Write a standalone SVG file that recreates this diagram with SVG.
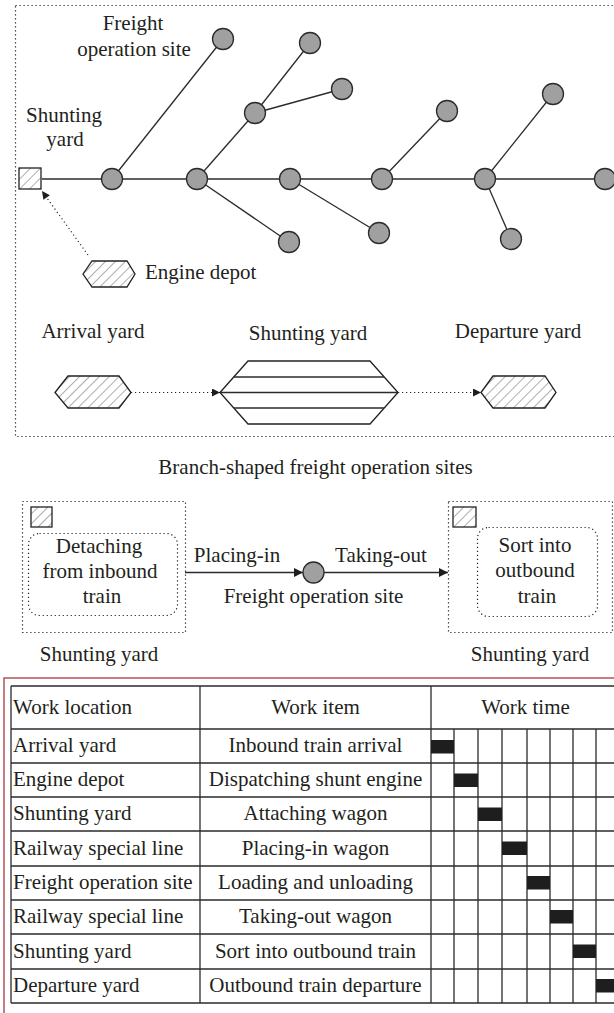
<svg xmlns="http://www.w3.org/2000/svg" width="614" height="1013" viewBox="0 0 614 1013">
<style>
.t{font-family:"Liberation Serif","Times New Roman",serif;font-size:21px;fill:#231f20}
.c{text-anchor:middle}
.edge{stroke:#2b2b2b;stroke-width:1.3;fill:none}
.dot{stroke:#222;stroke-width:1.2;stroke-dasharray:1.2 2.8;fill:none}
.node{fill:#a0a0a0;stroke:#2b2b2b;stroke-width:1.3}
.hatch{fill:url(#hatch);stroke:#222;stroke-width:1.3}
.plain{fill:#fff;stroke:#222;stroke-width:1.3}
.grid{stroke:#2b2b2b;stroke-width:1.3;fill:none}
.bar{fill:#1e1e1e}
</style>
<defs>
<pattern id="hatch" patternUnits="userSpaceOnUse" width="7" height="7" patternTransform="rotate(45)">
<rect width="7" height="7" fill="#fff"/>
<line x1="0" y1="0" x2="0" y2="7" stroke="#333" stroke-width="0.8"/>
</pattern>
<marker id="ahS" viewBox="0 0 10 10" refX="10" refY="5" markerWidth="14" markerHeight="9" markerUnits="userSpaceOnUse" orient="auto">
<path d="M0,0 L10,5 L0,10 z" fill="#1e1e1e"/>
</marker>
<marker id="ahD" viewBox="0 0 10 10" refX="10" refY="5" markerWidth="11" markerHeight="8" markerUnits="userSpaceOnUse" orient="auto">
<path d="M0,0 L10,5 L0,10 z" fill="#1e1e1e"/>
</marker>
</defs>
<rect width="614" height="1013" fill="#fff"/>

<rect id="frame-top" class="dot" x="15.5" y="5.5" width="620" height="431"/>

<g id="connectors">
<line class="edge" x1="42" y1="179" x2="605" y2="179"/>
<line class="edge" x1="112" y1="179" x2="223" y2="39"/>
<line class="edge" x1="197" y1="179" x2="255" y2="113"/>
<line class="edge" x1="255" y1="113" x2="310" y2="43"/>
<line class="edge" x1="255" y1="113" x2="342" y2="89"/>
<line class="edge" x1="197" y1="179" x2="289" y2="242"/>
<line class="edge" x1="290" y1="179" x2="379" y2="233"/>
<line class="edge" x1="382" y1="179" x2="447" y2="111"/>
<line class="edge" x1="485" y1="179" x2="553" y2="94"/>
<line class="edge" x1="485" y1="179" x2="511" y2="239"/>
<line class="dot" x1="88" y1="255" x2="42" y2="191" marker-end="url(#ahD)"/>
<line class="dot" x1="131" y1="392.5" x2="220" y2="392.5" marker-end="url(#ahD)"/>
<line class="dot" x1="398" y1="392.5" x2="481" y2="392.5" marker-end="url(#ahD)"/>
<line class="edge" x1="185" y1="572.5" x2="303" y2="572.5" marker-end="url(#ahS)"/>
<line class="edge" x1="324" y1="572.5" x2="448" y2="572.5" marker-end="url(#ahS)"/>
</g>

<g id="shunting-yard-top">
<rect class="hatch" x="19" y="168" width="22" height="21"/>
<text class="t c" x="64" y="122">Shunting</text>
<text class="t c" x="65" y="146">yard</text>
</g>
<g id="label-freight-site">
<text class="t c" x="133" y="30">Freight</text>
<text class="t c" x="134" y="56">operation site</text>
</g>
<g id="sites">
<circle class="node" cx="112" cy="179" r="10.5"/>
<circle class="node" cx="197" cy="179" r="10.5"/>
<circle class="node" cx="290" cy="179" r="10.5"/>
<circle class="node" cx="382" cy="179" r="10.5"/>
<circle class="node" cx="485" cy="179" r="10.5"/>
<circle class="node" cx="605" cy="179" r="10.5"/>
<circle class="node" cx="223" cy="39" r="10.5"/>
<circle class="node" cx="310" cy="43" r="10.5"/>
<circle class="node" cx="255" cy="113" r="10.5"/>
<circle class="node" cx="342" cy="89" r="10.5"/>
<circle class="node" cx="447" cy="111" r="10.5"/>
<circle class="node" cx="553" cy="94" r="10.5"/>
<circle class="node" cx="289" cy="242" r="10.5"/>
<circle class="node" cx="379" cy="233" r="10.5"/>
<circle class="node" cx="511" cy="239" r="10.5"/>
</g>
<g id="engine-depot">
<polygon class="hatch" points="83,274 92,261 127,261 135,274 127,287 92,287"/>
<text class="t" x="145" y="279">Engine depot</text>
</g>

<g id="arrival-yard">
<text class="t c" x="93" y="338">Arrival yard</text>
<polygon class="hatch" points="55,392.5 68,376 119,376 131,392.5 119,408 68,408"/>
</g>
<g id="shunting-yard-mid">
<text class="t c" x="308" y="340">Shunting yard</text>
<polygon class="plain" points="220,392.5 248,361 370,361 398,392.5 370,424 248,424"/>
<line class="edge" x1="234" y1="377" x2="384" y2="377"/>
<line class="edge" x1="220" y1="392.5" x2="398" y2="392.5"/>
<line class="edge" x1="234" y1="408" x2="384" y2="408"/>
</g>
<g id="departure-yard">
<text class="t c" x="518" y="338">Departure yard</text>
<polygon class="hatch" points="481,392.5 493,376 545,376 556,392.5 545,408 493,408"/>
</g>
<text id="caption" class="t c" x="315.5" y="474">Branch-shaped freight operation sites</text>

<g id="box-detach">
<rect class="dot" x="22.5" y="501.5" width="163" height="131"/>
<rect class="hatch" x="31" y="507" width="21" height="20"/>
<rect class="dot" x="28.5" y="533.5" width="149" height="82" rx="11"/>
<text class="t c" x="99" y="553">Detaching</text>
<text class="t c" x="100" y="578">from inbound</text>
<text class="t c" x="102" y="603">train</text>
<text class="t c" x="99" y="661">Shunting yard</text>
</g>
<g id="freight-site-node">
<circle class="node" cx="313.5" cy="572.5" r="10.5"/>
<text class="t c" x="237" y="562">Placing-in</text>
<text class="t c" x="381" y="562">Taking-out</text>
<text class="t c" x="313.5" y="603">Freight operation site</text>
</g>
<g id="box-sort">
<rect class="dot" x="448.5" y="501.5" width="164" height="131"/>
<rect class="hatch" x="453" y="507" width="23" height="20"/>
<rect class="dot" x="477.5" y="527.5" width="120" height="89" rx="11"/>
<text class="t c" x="535" y="552">Sort into</text>
<text class="t c" x="535" y="577">outbound</text>
<text class="t c" x="537" y="603">train</text>
<text class="t c" x="530" y="661">Shunting yard</text>
</g>

<g id="table">
<rect x="4" y="678" width="700" height="400" fill="none" stroke="#b5515b" stroke-width="1.5"/>
<g class="grid">
<path d="M11,686 H625 M11,729 H625 M11,763 H625 M11,797 H625 M11,831 H625 M11,866 H625 M11,900 H625 M11,934 H625 M11,969 H625 M11,1003 H625"/>
<path d="M11,686 V1003 M200,686 V1003 M431,686 V1003 M454,729 V1003 M478,729 V1003 M502,729 V1003 M527,729 V1003 M550,729 V1003 M573,729 V1003 M596,729 V1003 M620,686 V1003"/>
</g>
<g id="bars">
<rect class="bar" x="431" y="740" width="23" height="13.5"/>
<rect class="bar" x="454" y="773.5" width="24" height="13.5"/>
<rect class="bar" x="478" y="807.5" width="24" height="13.5"/>
<rect class="bar" x="502" y="841.5" width="25" height="13.5"/>
<rect class="bar" x="527" y="876" width="23" height="13.5"/>
<rect class="bar" x="550" y="910" width="23" height="13.5"/>
<rect class="bar" x="573" y="944.5" width="23" height="13.5"/>
<rect class="bar" x="596" y="979" width="24" height="13.5"/>
</g>
<text class="t" x="13" y="714">Work location</text>
<text class="t c" x="315.5" y="714">Work item</text>
<text class="t c" x="525.5" y="714">Work time</text>
<text class="t" x="13" y="752">Arrival yard</text>
<text class="t c" x="315.5" y="752">Inbound train arrival</text>
<text class="t" x="13" y="786">Engine depot</text>
<text class="t c" x="315.5" y="786">Dispatching shunt engine</text>
<text class="t" x="13" y="820">Shunting yard</text>
<text class="t c" x="315.5" y="820">Attaching wagon</text>
<text class="t" x="13" y="854.5">Railway special line</text>
<text class="t c" x="315.5" y="854.5">Placing-in wagon</text>
<text class="t" x="13" y="889">Freight operation site</text>
<text class="t c" x="315.5" y="889">Loading and unloading</text>
<text class="t" x="13" y="923">Railway special line</text>
<text class="t c" x="315.5" y="923">Taking-out wagon</text>
<text class="t" x="13" y="957.5">Shunting yard</text>
<text class="t c" x="315.5" y="957.5">Sort into outbound train</text>
<text class="t" x="13" y="992">Departure yard</text>
<text class="t c" x="315.5" y="992">Outbound train departure</text>
</g>
</svg>
